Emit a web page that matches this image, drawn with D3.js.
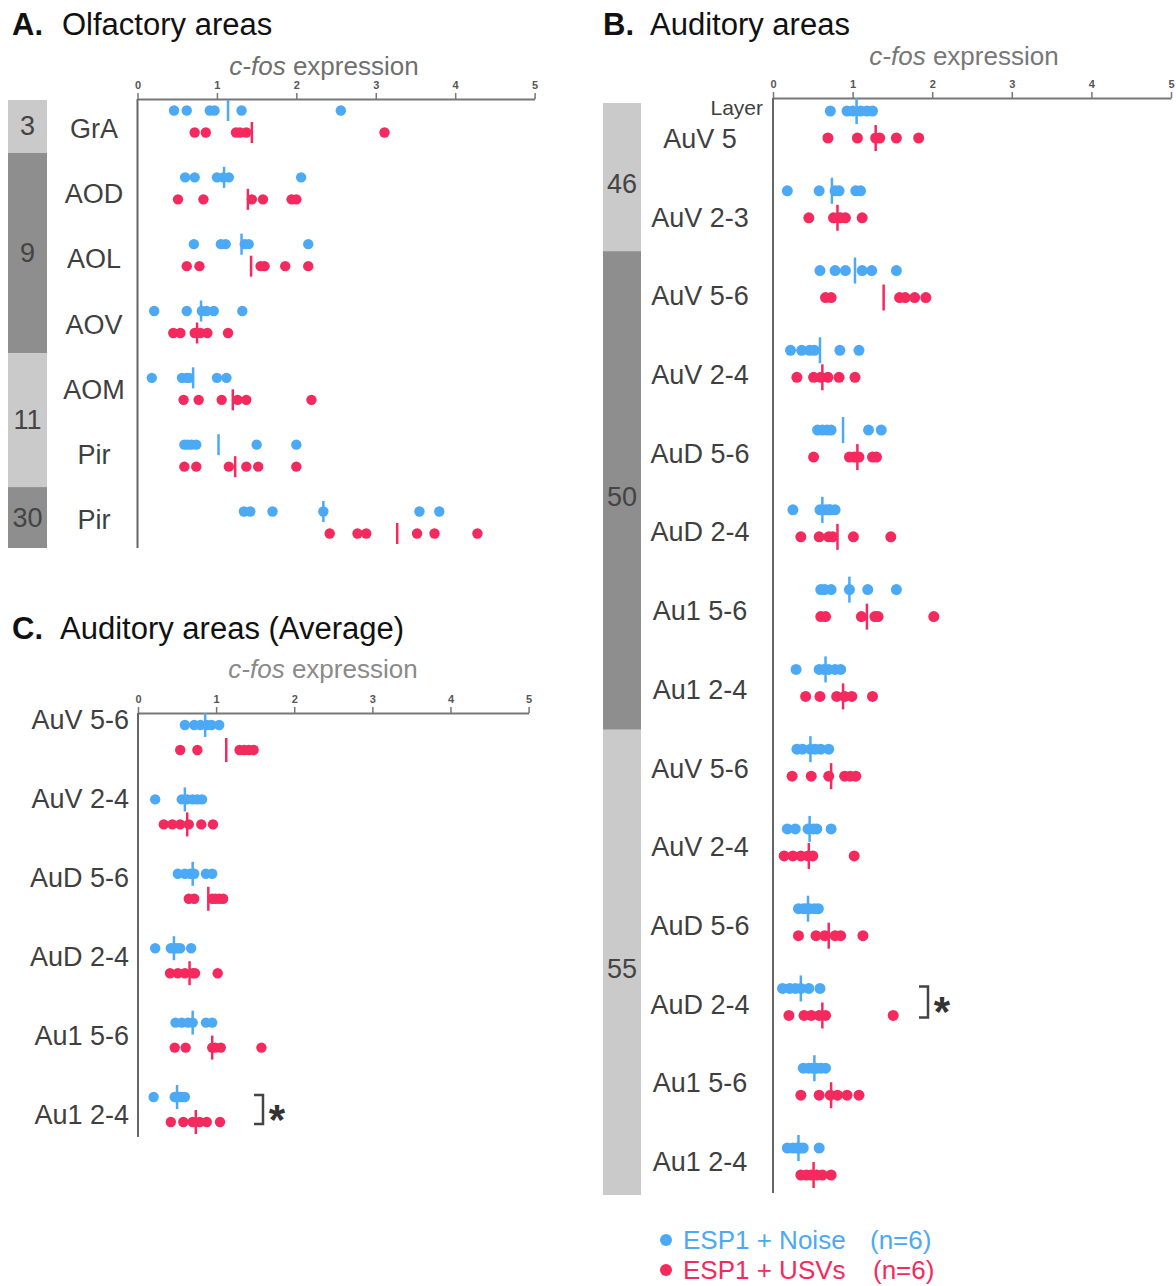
<!DOCTYPE html>
<html><head><meta charset="utf-8">
<script src="https://cdn.jsdelivr.net/npm/d3@7"></script>
<style>body{margin:0;background:#fff} text{font-family:"Liberation Sans",Arial,sans-serif}</style>
</head><body><svg id="c" width="1176" height="1286"></svg>
<script>
const blueColor = "#4ba9f5", redColor = "#f42a5e";
const ticks = [0, 1, 2, 3, 4, 5];

// ---------- Panel A: Olfactory areas ----------
const aRows = ["GrA", "AOD", "AOL", "AOV", "AOM", "Pir", "Pir"];
const aGroups = [["3", 1], ["9", 3], ["11", 2], ["30", 1]];
const aNoise = [
  [0.46, 0.62, 0.91, 0.97, 1.31, 2.56],
  [0.60, 0.72, 1.00, 1.08, 1.15, 2.06],
  [0.71, 1.05, 1.11, 1.35, 1.40, 2.15],
  [0.21, 0.62, 0.81, 0.87, 0.96, 1.32],
  [0.18, 0.56, 0.62, 0.65, 1.00, 1.12],
  [0.59, 0.63, 0.68, 0.74, 1.50, 2.00],
  [1.34, 1.42, 1.70, 2.34, 3.55, 3.80]];
const aUSV = [
  [0.72, 0.86, 1.24, 1.29, 1.37, 3.11],
  [0.51, 0.83, 1.44, 1.58, 1.94, 2.00],
  [0.62, 0.78, 1.55, 1.60, 1.86, 2.15],
  [0.45, 0.54, 0.72, 0.79, 0.88, 1.14],
  [0.58, 0.77, 1.06, 1.26, 1.37, 2.19],
  [0.59, 0.74, 1.15, 1.37, 1.52, 2.00],
  [2.42, 2.77, 2.88, 3.52, 3.74, 4.28]];
const aNoiseMean = [1.14, 1.09, 1.31, 0.80, 0.70, 1.02, 2.34];
const aUSVMean = [1.44, 1.39, 1.43, 0.75, 1.20, 1.23, 3.27];

// ---------- Panel B: Auditory areas ----------
const bRows = ["AuV 5", "AuV 2-3", "AuV 5-6", "AuV 2-4", "AuD 5-6", "AuD 2-4", "Au1 5-6", "Au1 2-4",
               "AuV 5-6", "AuV 2-4", "AuD 5-6", "AuD 2-4", "Au1 5-6", "Au1 2-4"];
const bGroups = [["46", 2], ["50", 6], ["55", 6]];
const bNoise = [
  [0.72, 0.93, 1.00, 1.10, 1.18, 1.25],
  [0.18, 0.58, 0.78, 0.83, 1.04, 1.10],
  [0.59, 0.78, 0.91, 1.12, 1.24, 1.55],
  [0.22, 0.36, 0.46, 0.52, 0.84, 1.08],
  [0.56, 0.62, 0.68, 0.73, 1.20, 1.36],
  [0.25, 0.59, 0.66, 0.70, 0.72, 0.78],
  [0.60, 0.65, 0.73, 0.96, 1.19, 1.55],
  [0.29, 0.58, 0.64, 0.70, 0.78, 0.85],
  [0.30, 0.37, 0.47, 0.53, 0.60, 0.70],
  [0.18, 0.28, 0.44, 0.51, 0.55, 0.73],
  [0.32, 0.38, 0.42, 0.46, 0.52, 0.57],
  [0.12, 0.21, 0.28, 0.35, 0.45, 0.59],
  [0.38, 0.45, 0.50, 0.55, 0.60, 0.66],
  [0.18, 0.25, 0.30, 0.34, 0.38, 0.58]];
const bUSV = [
  [0.69, 1.06, 1.29, 1.34, 1.55, 1.83],
  [0.45, 0.76, 0.82, 0.85, 0.91, 1.12],
  [0.66, 0.73, 1.59, 1.66, 1.78, 1.92],
  [0.30, 0.51, 0.60, 0.69, 0.83, 1.03],
  [0.51, 0.96, 1.02, 1.08, 1.25, 1.30],
  [0.35, 0.58, 0.70, 0.75, 1.01, 1.48],
  [0.60, 0.66, 1.11, 1.28, 1.32, 2.02],
  [0.41, 0.59, 0.80, 0.90, 0.99, 1.25],
  [0.24, 0.48, 0.70, 0.90, 0.97, 1.04],
  [0.14, 0.25, 0.35, 0.44, 0.50, 1.02],
  [0.32, 0.54, 0.65, 0.78, 0.85, 1.13],
  [0.20, 0.39, 0.48, 0.58, 0.66, 1.51],
  [0.35, 0.58, 0.72, 0.81, 0.93, 1.08],
  [0.35, 0.42, 0.48, 0.55, 0.62, 0.73]];
const bNoiseMean = [1.05, 0.74, 1.03, 0.59, 0.88, 0.62, 0.96, 0.66, 0.47, 0.46, 0.44, 0.35, 0.52, 0.32];
const bUSVMean = [1.29, 0.81, 1.39, 0.62, 1.06, 0.81, 1.18, 0.88, 0.73, 0.45, 0.70, 0.62, 0.73, 0.51];
const bSignificant = [11];

// ---------- Panel C: Auditory areas (Average) ----------
const cRows = ["AuV 5-6", "AuV 2-4", "AuD 5-6", "AuD 2-4", "Au1 5-6", "Au1 2-4"];
const cNoise = [
  [0.60, 0.72, 0.80, 0.88, 0.94, 1.04],
  [0.22, 0.56, 0.63, 0.70, 0.76, 0.82],
  [0.51, 0.60, 0.67, 0.72, 0.87, 0.95],
  [0.22, 0.42, 0.46, 0.50, 0.54, 0.68],
  [0.48, 0.56, 0.64, 0.70, 0.87, 0.95],
  [0.20, 0.47, 0.50, 0.54, 0.57, 0.60]];
const cUSV = [
  [0.54, 0.76, 1.30, 1.36, 1.42, 1.48],
  [0.33, 0.44, 0.54, 0.65, 0.81, 0.96],
  [0.65, 0.72, 0.95, 0.99, 1.04, 1.09],
  [0.41, 0.51, 0.60, 0.70, 0.73, 1.02],
  [0.47, 0.61, 0.95, 0.99, 1.06, 1.58],
  [0.42, 0.58, 0.70, 0.79, 0.88, 1.05]];
const cNoiseMean = [0.86, 0.60, 0.70, 0.46, 0.70, 0.50];
const cUSVMean = [1.13, 0.63, 0.90, 0.66, 0.95, 0.74];
const cSignificant = [5];

const legendItems = [["ESP1 + Noise", "(n=6)"], ["ESP1 + USVs", "(n=6)"]];

const svg = d3.select("#c");

function panel(cfg) {
  const g = svg.append("g");
  const x = d3.scaleLinear().domain([0, 5]).range([cfg.x0, cfg.x1]);
  const idx = d3.range(cfg.rows.length);
  const y = d3.scalePoint().domain(idx).range([cfg.rowTop, cfg.rowBottom]);
  const yl = d3.scalePoint().domain(idx).range([cfg.labelTop, cfg.labelBottom]);

  // title
  const t = g.append("text").attr("x", cfg.titleX).attr("y", cfg.titleY)
    .attr("font-size", 31).attr("fill", "#111");
  t.append("tspan").attr("font-weight", "bold").text(cfg.titleLetter);
  t.append("tspan").attr("x", cfg.titleX + cfg.titleGap).text(cfg.title);

  // axis title
  const at = g.append("text").attr("x", cfg.axisTitleX).attr("y", cfg.axisY - cfg.axisTitleDy)
    .attr("text-anchor", "middle").attr("font-size", 26).attr("fill", cfg.axisTitleColor);
  at.append("tspan").attr("font-style", "italic").text("c-fos");
  at.append("tspan").text(" expression");

  // group blocks
  if (cfg.groups) {
    let start = 0;
    cfg.groups.forEach(([lab, n], gi) => {
      const end = start + n - 1;
      const top = gi === 0 ? cfg.blockTop : (y(start - 1) + y(start)) / 2 + cfg.blockShift;
      const bot = gi === cfg.groups.length - 1 ? cfg.blockBottom : (y(end) + y(end + 1)) / 2 + cfg.blockShift;
      g.append("rect").attr("x", cfg.blockX0).attr("y", top)
        .attr("width", cfg.blockX1 - cfg.blockX0).attr("height", bot - top)
        .attr("fill", gi % 2 === 0 ? "#cacaca" : "#8e8e8e");
      g.append("text").attr("x", (cfg.blockX0 + cfg.blockX1) / 2).attr("y", (top + bot) / 2 + cfg.blockLabelDy)
        .attr("text-anchor", "middle").attr("dominant-baseline", "central")
        .attr("font-size", 27).attr("fill", "#444").text(lab);
      start += n;
    });
  }

  // x axis on top
  const axis = d3.axisTop(x).tickValues(ticks).tickFormat(d3.format("d"))
    .tickSize(6).tickSizeOuter(0).tickPadding(4);
  const ag = g.append("g").attr("transform", `translate(0,${cfg.axisY})`).call(axis);
  ag.select(".domain").attr("stroke", "#777").attr("stroke-width", 2);
  ag.selectAll(".tick line").attr("stroke", "#777").attr("stroke-width", 1.5);
  ag.selectAll(".tick text").attr("font-size", 11).attr("font-weight", "bold")
    .attr("fill", "#555").attr("font-family", "Liberation Sans, Arial, sans-serif");

  // vertical axis line
  g.append("line").attr("x1", cfg.x0).attr("x2", cfg.x0)
    .attr("y1", cfg.axisY).attr("y2", cfg.axisBottom)
    .attr("stroke", "#666").attr("stroke-width", 2);

  // row labels
  g.selectAll(".rl").data(idx).enter().append("text")
    .attr("x", cfg.labelX).attr("y", i => yl(i))
    .attr("text-anchor", cfg.labelAnchor).attr("dominant-baseline", "central")
    .attr("font-size", 27).attr("fill", "#3f3f3f").text(i => cfg.rows[i]);

  const series = [
    { vals: cfg.noise, means: cfg.noiseMean, color: blueColor, dy: -cfg.off },
    { vals: cfg.usv, means: cfg.usvMean, color: redColor, dy: cfg.off }];
  series.forEach(s => {
    idx.forEach(i => {
      g.selectAll(null).data(s.vals[i]).enter().append("circle")
        .attr("cx", v => x(v)).attr("cy", y(i) + s.dy).attr("r", cfg.r)
        .attr("fill", s.color);
      g.append("line").attr("x1", x(s.means[i])).attr("x2", x(s.means[i]))
        .attr("y1", y(i) + s.dy - cfg.lineHalf).attr("y2", y(i) + s.dy + cfg.lineHalf)
        .attr("stroke", s.color).attr("stroke-width", 2.5);
    });
  });

  // significance brackets
  (cfg.sig || []).forEach(i => {
    const y1 = y(i) - cfg.off - 2, y2 = y(i) + cfg.off + 2, bx = cfg.sigX;
    g.append("path").attr("d", `M${bx - 9},${y1} H${bx} V${y2} H${bx - 9}`)
      .attr("fill", "none").attr("stroke", "#444").attr("stroke-width", 2.5);
    g.append("text").attr("x", bx + 14).attr("y", (y1 + y2) / 2 + 24)
      .attr("text-anchor", "middle").attr("font-size", 42).attr("font-weight", "bold")
      .attr("font-family", "DejaVu Sans, sans-serif").attr("fill", "#333").text("*");
  });
  return { x, y };
}

panel({
  rows: aRows, groups: aGroups, noise: aNoise, usv: aUSV, noiseMean: aNoiseMean, usvMean: aUSVMean,
  x0: 137.5, x1: 534.6, axisY: 99, axisBottom: 548, rowTop: 121.5, rowBottom: 522.5,
  labelTop: 129, labelBottom: 520, labelX: 94, labelAnchor: "middle", off: 11, lineHalf: 10.5, r: 5.2,
  titleX: 12, titleY: 35, titleLetter: "A.", titleGap: 50, title: "Olfactory areas",
  axisTitleX: 324, axisTitleDy: 24, axisTitleColor: "#6f6f6f",
  blockX0: 8, blockX1: 47, blockTop: 100, blockBottom: 548, blockShift: -2, blockLabelDy: 0
});

panel({
  rows: bRows, groups: bGroups, noise: bNoise, usv: bUSV, noiseMean: bNoiseMean, usvMean: bUSVMean,
  x0: 773, x1: 1171, axisY: 98, axisBottom: 1193, rowTop: 124.5, rowBottom: 1161.5,
  labelTop: 139, labelBottom: 1162, labelX: 700, labelAnchor: "middle", off: 13.5, lineHalf: 13, r: 5.5,
  titleX: 603, titleY: 35, titleLetter: "B.", titleGap: 47, title: "Auditory areas",
  axisTitleX: 964, axisTitleDy: 33, axisTitleColor: "#777",
  blockX0: 603, blockX1: 641, blockTop: 103, blockBottom: 1195, blockShift: 7, blockLabelDy: 7,
  sig: bSignificant, sigX: 928
});

panel({
  rows: cRows, noise: cNoise, usv: cUSV, noiseMean: cNoiseMean, usvMean: cUSVMean,
  x0: 138, x1: 528.6, axisY: 713, axisBottom: 1137, rowTop: 737.5, rowBottom: 1109.5,
  labelTop: 720, labelBottom: 1115, labelX: 129, labelAnchor: "end", off: 12.5, lineHalf: 12, r: 5.2,
  titleX: 12, titleY: 639, titleLetter: "C.", titleGap: 48, title: "Auditory areas (Average)",
  axisTitleX: 323, axisTitleDy: 35, axisTitleColor: "#8a8a8a",
  sig: cSignificant, sigX: 263
});

// "Layer" header
svg.append("text").attr("x", 763).attr("y", 107).attr("text-anchor", "end")
  .attr("dominant-baseline", "central").attr("font-size", 21).attr("fill", "#3f3f3f").text("Layer");

// legend
const legColors = [blueColor, redColor];
const lg = svg.append("g");
legendItems.forEach(([a, b], i) => {
  const ly = 1240 + i * 30;
  lg.append("circle").attr("cx", 666).attr("cy", ly).attr("r", 6).attr("fill", legColors[i]);
  lg.append("text").attr("x", 683).attr("y", ly).attr("dominant-baseline", "central")
    .attr("font-size", 26).attr("fill", legColors[i]).text(a);
  lg.append("text").attr("x", 870 + i * 3).attr("y", ly).attr("dominant-baseline", "central")
    .attr("font-size", 26).attr("fill", legColors[i]).text(b);
});
</script></body></html>
